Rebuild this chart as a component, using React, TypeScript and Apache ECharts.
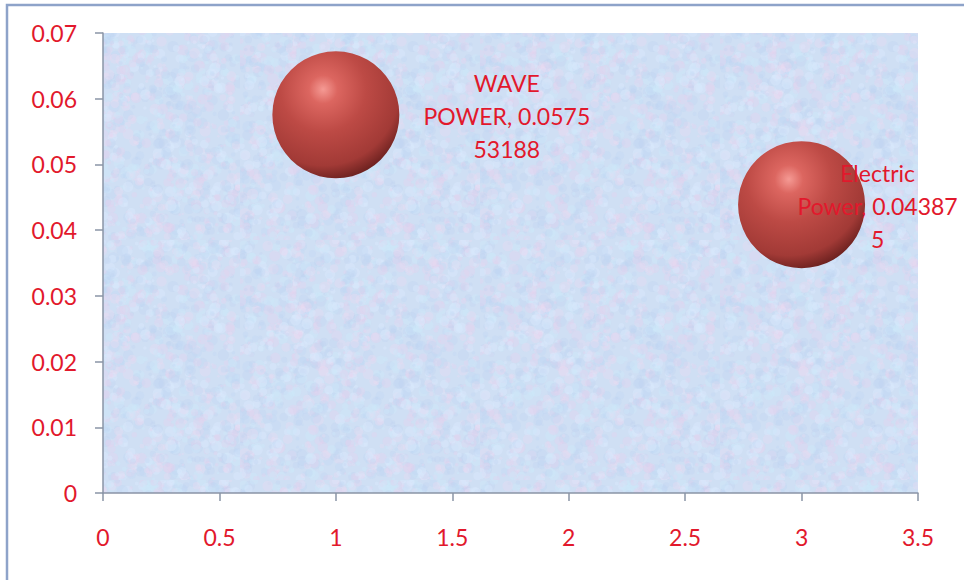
import React, { useEffect, useRef } from "react";
import * as echarts from "echarts";

const names = ["WAVE POWER", "Electric Power"];
const xValues = [1, 3];
const yValues = [0.057553188, 0.043875];
const bubbleSizes = [1, 1];
const labelLines = [
  ["WAVE", "POWER, 0.0575", "53188"],
  ["Electric", "Power, 0.04387", "5"],
];
const xTicks = { min: 0, max: 3.5, interval: 0.5 };
const yTicks = { min: 0, max: 0.07, interval: 0.01 };

function makeTexture(): string {
  const c = document.createElement("canvas");
  c.width = 240;
  c.height = 240;
  const ctx = c.getContext("2d");
  if (!ctx) return "";
  ctx.fillStyle = "#cfdff4";
  ctx.fillRect(0, 0, 240, 240);
  let s = 12345;
  const rnd = () => {
    s = (s * 1103515245 + 12345) & 0x7fffffff;
    return s / 0x7fffffff;
  };
  const cols = [
    "rgba(230,208,238,0.35)",
    "rgba(192,214,244,0.35)",
    "rgba(218,232,252,0.45)",
    "rgba(186,206,238,0.25)",
    "rgba(238,220,242,0.3)",
    "rgba(205,232,250,0.4)",
  ];
  for (let i = 0; i < 1800; i++) {
    ctx.fillStyle = cols[Math.floor(rnd() * cols.length)];
    const x = rnd() * 240;
    const y = rnd() * 240;
    const r = 1.2 + rnd() * 4.5;
    ctx.beginPath();
    ctx.arc(x, y, r, 0, Math.PI * 2);
    ctx.fill();
  }
  return c.toDataURL();
}

const RED = "#e2182c";
const FONT = "Lato, 'Open Sans', sans-serif";

export default function App() {
  const ref = useRef<HTMLDivElement>(null);
  useEffect(() => {
    if (!ref.current) return;
    const chart = echarts.init(ref.current, undefined, { renderer: "svg" });
    const maxSize = Math.max(...bubbleSizes);
    const offsets = [
      [171, 1],
      [76, 1],
    ];
    const sphere = new echarts.graphic.RadialGradient(0.4, 0.3, 0.8, [
      { offset: 0, color: "#f59a94" },
      { offset: 0.14, color: "#dc6660" },
      { offset: 0.42, color: "#bd4a45" },
      { offset: 0.75, color: "#a23a36" },
      { offset: 0.9, color: "#6e2220" },
      { offset: 1, color: "#3e0e0d" },
    ]);
    const data = names.map((n, i) => ({
      name: n,
      value: [xValues[i], yValues[i], bubbleSizes[i]],
      label: { offset: offsets[i] },
    }));
    const tex = makeTexture();
    chart.setOption({
      animation: false,
      grid: {
        left: 103,
        right: 46,
        top: 33,
        bottom: 87,
        show: true,
        borderWidth: 0,
        backgroundColor: tex ? { image: tex, repeat: "repeat" } : "#cfdff4",
      },
      graphic: [
        {
          type: "rect",
          shape: { x: 7, y: 5, width: 1000, height: 620 },
          style: { fill: "none", stroke: "#8ea3c9", lineWidth: 2.5 },
          silent: true,
        },
      ],
      xAxis: {
        type: "value",
        min: xTicks.min,
        max: xTicks.max,
        interval: xTicks.interval,
        splitLine: { show: false },
        axisLine: { show: true, onZero: false, lineStyle: { color: "#8a94a6", width: 1.5 } },
        axisTick: { show: true, length: 8, lineStyle: { color: "#8a94a6", width: 1.5 } },
        axisLabel: {
          color: RED,
          fontFamily: FONT,
          fontSize: 23,
          margin: 32,
          formatter: (v: number) => String(+v.toFixed(2)),
        },
      },
      yAxis: {
        type: "value",
        min: yTicks.min,
        max: yTicks.max,
        interval: yTicks.interval,
        splitLine: { show: false },
        axisLine: { show: true, onZero: false, lineStyle: { color: "#8a94a6", width: 1.5 } },
        axisTick: { show: true, length: 8, lineStyle: { color: "#8a94a6", width: 1.5 } },
        axisLabel: {
          color: RED,
          fontFamily: FONT,
          fontSize: 23,
          margin: 26,
          formatter: (v: number) => String(+v.toFixed(3)),
        },
      },
      series: [
        {
          type: "scatter",
          data,
          symbol: "circle",
          symbolSize: (val: number[]) => 127 * Math.sqrt(val[2] / maxSize),
          itemStyle: { color: sphere, opacity: 1 },
          label: {
            show: true,
            position: "inside",
            align: "center",
            verticalAlign: "middle",
            color: RED,
            textBorderWidth: 0,
            fontFamily: FONT,
            fontSize: 23,
            lineHeight: 33,
            formatter: (p: any) => labelLines[p.dataIndex].join("\n"),
          },
          emphasis: { disabled: true },
        },
      ],
    });
    return () => chart.dispose();
  }, []);
  return (
    <div
      ref={ref}
      style={{ position: "fixed", left: 0, top: 0, width: 964, height: 580, background: "#fff" }}
    />
  );
}
